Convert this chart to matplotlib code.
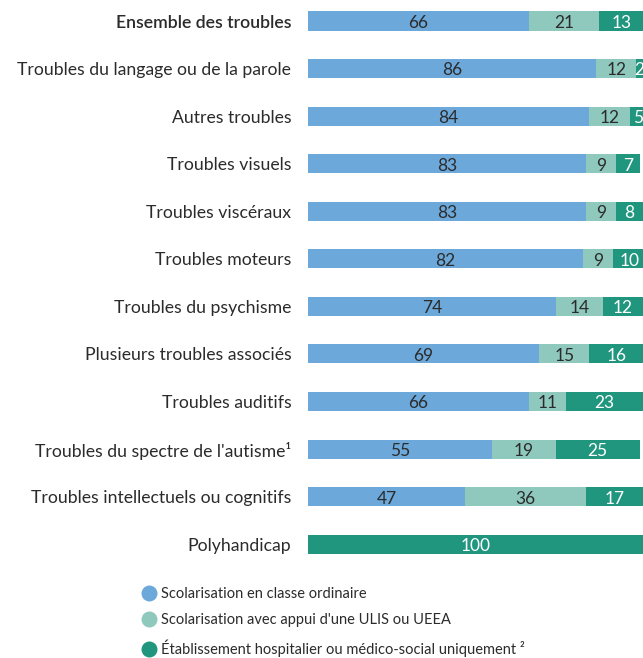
import matplotlib.pyplot as plt
from matplotlib.lines import Line2D

categories = [
    "Ensemble des troubles",
    "Troubles du langage ou de la parole",
    "Autres troubles",
    "Troubles visuels",
    "Troubles viscéraux",
    "Troubles moteurs",
    "Troubles du psychisme",
    "Plusieurs troubles associés",
    "Troubles auditifs",
    "Troubles du spectre de l'autisme¹",
    "Troubles intellectuels ou cognitifs",
    "Polyhandicap",
]
ordinaire = [66, 86, 84, 83, 83, 82, 74, 69, 66, 55, 47, 0]
ulis = [21, 12, 12, 9, 9, 9, 14, 15, 11, 19, 36, 0]
etablissement = [13, 2, 5, 7, 8, 10, 12, 16, 23, 25, 17, 100]

series_names = [
    "Scolarisation en classe ordinaire",
    "Scolarisation avec appui d'une ULIS ou UEEA",
    "Établissement hospitalier ou médico-social uniquement ²",
]
colors = ["#6CA9DA", "#8FC9BE", "#21967F"]
text_colors = ["#2b2b2b", "#2b2b2b", "white"]

plt.rcParams['font.family'] = ['Lato', 'DejaVu Sans']

fig = plt.figure(figsize=(6.43, 6.58), dpi=100)
ax = fig.add_axes([308 / 643, 1 - 568 / 658, 1 - 308 / 643, 568 / 658])

y = list(range(len(categories)))
left = [0] * len(categories)
for vals, col, tcol in zip([ordinaire, ulis, etablissement], colors, text_colors):
    ax.barh(y, vals, left=left, height=0.40, color=col, edgecolor='none')
    for i, v in enumerate(vals):
        if v > 0:
            ax.text(left[i] + v / 2, i + 0.04, str(v), ha='center', va='center',
                    fontsize=12.5, color=tcol, clip_on=True)
    left = [l + v for l, v in zip(left, vals)]

ax.set_xlim(0, 100)
ax.set_ylim(11.50, -0.4417)
ax.set_yticks(y)
ax.set_yticklabels(categories, fontsize=12.7, color='#2b2b2b')
ax.get_yticklabels()[0].set_fontweight('semibold')
ax.tick_params(axis='y', length=0, pad=12)
ax.set_xticks([])
for s in ax.spines.values():
    s.set_visible(False)

handles = [Line2D([0], [0], marker='o', color='none', markerfacecolor=c,
                  markeredgecolor='none', markersize=11.5) for c in colors]
fig.legend(handles, series_names, loc='upper left', bbox_to_anchor=(130 / 643, 1 - 577 / 658),
           frameon=False, fontsize=10.5, handletextpad=0.2, labelspacing=0.84,
           handlelength=1.2, labelcolor='#2b2b2b', borderaxespad=0.3)

fig.savefig('out.png', dpi=100)
